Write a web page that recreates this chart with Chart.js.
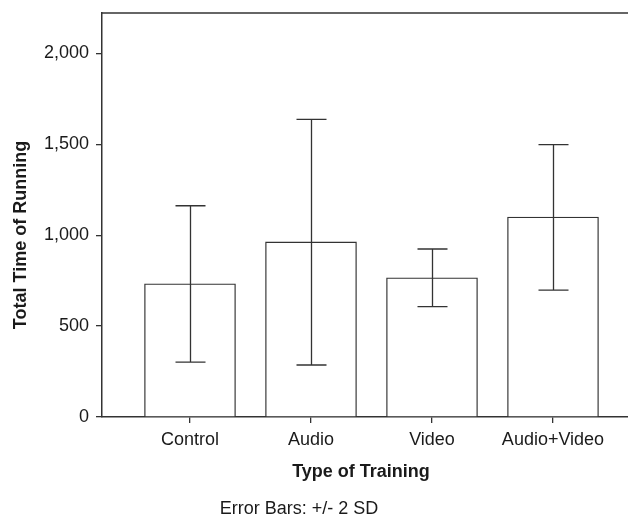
<!DOCTYPE html>
<html>
<head>
<meta charset="utf-8">
<script src="https://cdn.jsdelivr.net/npm/chart.js@4"></script>
<style>
  html, body { margin: 0; padding: 0; background: #fff; }
  #wrap { width: 628px; height: 516px; position: relative; }
</style>
</head>
<body>
<div id="wrap"><canvas id="chart"></canvas></div>
<script>
// data
let categories = ['Control', 'Audio', 'Video', 'Audio+Video'];
let positions = [1, 2, 3, 4];
let meanTime = [733, 963, 766, 1100];
let errLow = [302, 286, 607, 698];
let errHigh = [1162, 1637, 924, 1498];
let yTicks = [0, 500, 1000, 1500, 2000];

let lineColor = '#333333';
let textColor = '#1a1a1a';
let fontFamily = "'Liberation Sans', Arial, Helvetica, sans-serif";

// error bars drawn through the library scales
const errorBars = {
    id: 'errorBars',
    afterDatasetsDraw(chart) {
        const ctx = chart.ctx;
        const xs = chart.scales.x;
        const ys = chart.scales.y;
        ctx.save();
        ctx.strokeStyle = lineColor;
        ctx.lineWidth = 1.3;
        for (let i = 0; i < positions.length; i++) {
            let x = Math.round(xs.getPixelForValue(positions[i])) + 0.5;
            let yl = ys.getPixelForValue(errLow[i]);
            let yh = ys.getPixelForValue(errHigh[i]);
            ctx.beginPath();
            ctx.moveTo(x, yl);
            ctx.lineTo(x, yh);
            ctx.moveTo(x - 15, yl);
            ctx.lineTo(x + 15, yl);
            ctx.moveTo(x - 15, yh);
            ctx.lineTo(x + 15, yh);
            ctx.stroke();
        }
        ctx.restore();
    }
};

// top frame line and titles
const frame = {
    id: 'frame',
    afterDraw(chart) {
        const ctx = chart.ctx;
        const a = chart.chartArea;
        ctx.save();
        ctx.strokeStyle = lineColor;
        ctx.lineWidth = 1.5;
        ctx.beginPath();
        ctx.moveTo(a.left, a.top);
        ctx.lineTo(a.right, a.top);
        ctx.stroke();

        ctx.fillStyle = textColor;
        ctx.textAlign = 'center';
        ctx.textBaseline = 'middle';
        ctx.font = 'bold 18px ' + fontFamily;
        ctx.fillText('Type of Training', 361, 472);

        ctx.save();
        ctx.translate(21, 235);
        ctx.rotate(-Math.PI / 2);
        ctx.fillText('Total Time of Running', 0, 0);
        ctx.restore();

        ctx.font = '18px ' + fontFamily;
        ctx.fillText('Error Bars: +/- 2 SD', 299, 509);
        ctx.restore();
    }
};

const ctx = document.getElementById('chart').getContext('2d');
new Chart(ctx, {
    type: 'bar',
    data: {
        datasets: [{
            data: positions.map((p, i) => ({ x: p, y: meanTime[i] })),
            backgroundColor: '#ffffff',
            borderColor: lineColor,
            borderWidth: 1.3,
            borderSkipped: 'start',
            barThickness: 91
        }]
    },
    options: {
        responsive: true,
        maintainAspectRatio: false,
        animation: false,
        layout: { padding: { top: 13, left: 0, right: 0, bottom: 0 } },
        plugins: {
            legend: { display: false },
            tooltip: { enabled: false }
        },
        scales: {
            x: {
                type: 'linear',
                offset: false,
                min: 1 - 88 / 121,
                max: 4 + 75 / 121,
                afterFit: s => { s.height = 99; s.paddingLeft = 0; s.paddingRight = 0; },
                afterBuildTicks: s => { s.ticks = positions.map(v => ({ value: v })); },
                grid: {
                    display: true,
                    offset: false,
                    drawOnChartArea: false,
                    drawTicks: true,
                    tickLength: 6,
                    color: lineColor,
                    lineWidth: 1.3
                },
                border: { display: true, color: lineColor, width: 1.5 },
                ticks: {
                    autoSkip: false,
                    maxRotation: 0,
                    padding: 6,
                    color: textColor,
                    font: { family: fontFamily, size: 18 },
                    callback: v => categories[positions.indexOf(v)]
                }
            },
            y: {
                min: 0,
                max: 2222,
                afterFit: s => { s.width = 102; s.paddingTop = 0; s.paddingBottom = 0; },
                afterBuildTicks: s => { s.ticks = yTicks.map(v => ({ value: v })); },
                grid: {
                    display: true,
                    drawOnChartArea: false,
                    drawTicks: true,
                    tickLength: 6,
                    color: lineColor,
                    lineWidth: 1.3
                },
                border: { display: true, color: lineColor, width: 1.5 },
                ticks: {
                    padding: 7,
                    color: textColor,
                    font: { family: fontFamily, size: 18 },
                    callback: v => v.toLocaleString('en-US')
                }
            }
        }
    },
    plugins: [errorBars, frame]
});
</script>
</body>
</html>
